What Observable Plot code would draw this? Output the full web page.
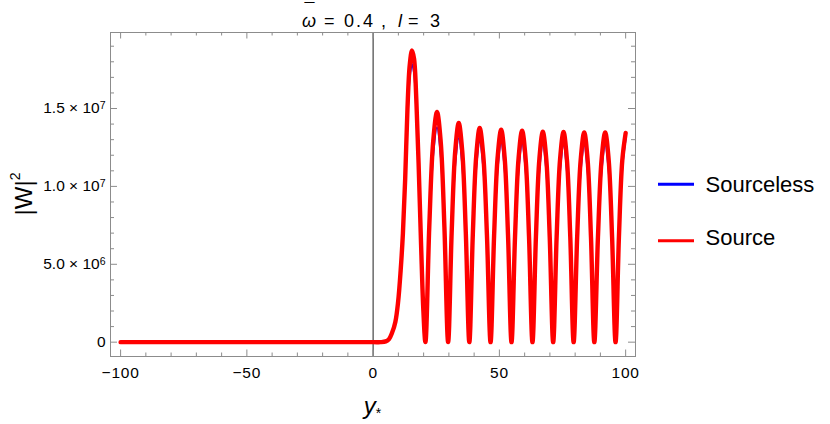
<!DOCTYPE html>
<html><head><meta charset="utf-8">
<script src="https://cdn.jsdelivr.net/npm/d3@7"></script>
<script src="https://cdn.jsdelivr.net/npm/@observablehq/plot@0.6"></script>
<style>
body{margin:0;background:#fff;}
#chart{position:relative;width:830px;height:424px;}
</style>
</head><body><div id="chart"></div>
<script>
// ---- data (|W|^2 in units of 1e6) ----
const seriesNames = ["Sourceless", "Source"];
const seriesColors = ["#0000ff", "#ff0000"];
const xs = [-100, -50, 0, 3, 5, 6.3, 7.5, 8.8, 9.9, 10.9, 11.8, 12.7, 13.6, 14.5, 15.4, 16.2, 17.1, 18.0, 19.0, 19.9, 20.7,
  22.23, 23.77, 25.3, 26.77, 28.23, 29.7, 31.1, 32.5, 33.9, 35.3, 36.7, 38.1, 39.47, 40.83, 42.2, 43.63, 45.07, 46.5,
  47.9, 49.3, 50.7, 52.07, 53.43, 54.8, 56.2, 57.6, 59.0, 60.37, 61.73, 63.1, 64.47, 65.83, 67.2, 68.57, 69.93, 71.3,
  72.67, 74.03, 75.4, 76.73, 78.07, 79.4, 80.8, 82.2, 83.6, 84.93, 86.27, 87.6, 89.03, 90.47, 91.9, 93.27, 94.63, 96.0,
  97.33, 98.67, 100];
const source = [0, 0, 0, 0, 0.05, 0.2, 0.6, 1.3, 2.6, 4.6, 7.0, 10.5, 15.0, 17.8, 18.73, 18.2, 15.6, 11.5, 6.2, 2.0, 0,
  7.39, 12.86, 14.78, 12.86, 7.39, 0, 7.04, 12.24, 14.07, 12.24, 7.04, 0, 6.88, 11.96, 13.75, 11.96, 6.88, 0,
  6.82, 11.87, 13.64, 11.87, 6.82, 0, 6.79, 11.81, 13.58, 11.81, 6.79, 0, 6.76, 11.75, 13.51, 11.75, 6.76, 0,
  6.75, 11.74, 13.49, 11.74, 6.75, 0, 6.74, 11.72, 13.47, 11.72, 6.74, 0, 6.74, 11.72, 13.47, 11.72, 6.74, 0,
  6.72, 11.68, 13.43];
const sourceless = [0, 0, 0, 0, 0.05, 0.2, 0.57, 1.24, 2.48, 4.38, 6.67, 10.0, 14.3, 17.0, 17.85, 17.3, 14.8, 10.9, 5.9, 1.9, 0,
  6.9, 12.01, 13.8, 12.01, 6.9, 0, 6.55, 11.4, 13.1, 11.4, 6.55, 0, 6.45, 11.22, 12.9, 11.22, 6.45, 0,
  6.4, 11.14, 12.8, 11.14, 6.4, 0, 6.38, 11.09, 12.75, 11.09, 6.38, 0, 6.35, 11.05, 12.7, 11.05, 6.35, 0,
  6.34, 11.03, 12.68, 11.03, 6.34, 0, 6.33, 11.01, 12.66, 11.01, 6.33, 0, 6.33, 11.01, 12.66, 11.01, 6.33, 0,
  6.4, 11.2, 13.05];

const xMajorTicks = [-100, -50, 0, 50, 100];
const xTickLabels = ["\u2212100", "\u221250", "0", "50", "100"];
const xMinorTicks = [-90, -80, -70, -60, -40, -30, -20, -10, 10, 20, 30, 40, 60, 70, 80, 90];
const yMajorTicks = [0, 5, 10, 15];
const yTickLabels = ["0", "5.0 \u00d7 10^6", "1.0 \u00d7 10^7", "1.5 \u00d7 10^7"];
const yMinorTicks = [1, 2, 3, 4, 6, 7, 8, 9, 11, 12, 13, 14, 16, 17, 18, 19];

// ---- layout ----
const W = 830, H = 424;
const mL = 110, mR = 195, mT = 32, mB = 68;
const innerW = W - mL - mR, innerH = H - mT - mB;
const grey = "#8c8c8c";
const font = "'Liberation Sans', Arial, sans-serif";

const rows = (vals, name) => xs.map((x, i) => ({x, y: vals[i], s: name}));
const blueData = rows(sourceless, seriesNames[0]);
const redData = rows(source, seriesNames[1]);

const chart = Plot.plot({
  width: W, height: H,
  marginLeft: mL, marginRight: mR, marginTop: mT, marginBottom: mB,
  x: {domain: [-104, 103.9]},
  y: {domain: [-0.92, 19.88]},
  style: {fontFamily: font, fontSize: "15px", color: "#000", background: "#fff"},
  marks: [
    Plot.ruleX([0], {stroke: "#444", strokeWidth: 1.2}),
    Plot.line(blueData, {x: "x", y: "y", stroke: seriesColors[0], strokeWidth: 2, curve: "catmull-rom"}),
    Plot.line(redData, {x: "x", y: "y", stroke: seriesColors[1], strokeWidth: 4.4, curve: "catmull-rom"}),
    Plot.frame({stroke: grey}),
    Plot.tickX(xMajorTicks, {x: d => d, stroke: grey, insetTop: innerH - 6.5}),
    Plot.tickX(xMajorTicks, {x: d => d, stroke: grey, insetBottom: innerH - 6.5}),
    Plot.tickX(xMinorTicks, {x: d => d, stroke: grey, insetTop: innerH - 3.5}),
    Plot.tickX(xMinorTicks, {x: d => d, stroke: grey, insetBottom: innerH - 3.5}),
    Plot.tickY(yMajorTicks, {y: d => d, stroke: grey, insetRight: innerW - 7}),
    Plot.tickY(yMajorTicks, {y: d => d, stroke: grey, insetLeft: innerW - 7}),
    Plot.tickY(yMinorTicks, {y: d => d, stroke: grey, insetRight: innerW - 4}),
    Plot.tickY(yMinorTicks, {y: d => d, stroke: grey, insetLeft: innerW - 4}),
    Plot.axisX(xMajorTicks, {tickSize: 0, tickPadding: 10, label: null, fontSize: 15.5,
      tickFormat: d => xTickLabels[xMajorTicks.indexOf(d)]}),
    Plot.axisY(yMajorTicks, {tickSize: 0, tickPadding: 5, label: null, fontSize: 15.5,
      tickFormat: d => yTickLabels[yMajorTicks.indexOf(d)]})
  ]
});
document.getElementById("chart").appendChild(chart);

const svg = d3.select(chart);
svg.selectAll('[aria-label="x-axis tick label"] text').attr("letter-spacing", "0.8px");
// superscripts in y tick labels
svg.selectAll('[aria-label="y-axis tick label"] text').each(function() {
  const t = d3.select(this);
  const s = t.text();
  if (s.includes("^")) {
    const [base, exp] = s.split("^");
    t.text("");
    t.append("tspan").text(base);
    t.append("tspan").attr("dy", "-0.45em").attr("font-size", "10.5px").text(exp);
  }
});

const cx = mL + innerW / 2;
// title: pieces placed left to right (overbar of omega as its own raised piece)
const titleParts = [
  {t: "\u00af", x: 304.5, dy: -10.5},
  {t: "\u03c9", x: 302, dy: 10.5, italic: true},
  {t: "=", x: 324},
  {t: "0.4", x: 344, ls: 2},
  {t: ",", x: 381},
  {t: "l", x: 398, italic: true},
  {t: "=", x: 408},
  {t: "3", x: 430}
];
const title = svg.append("text").attr("y", 26.5).attr("text-anchor", "start")
  .attr("font-family", font).attr("font-size", 18).attr("fill", "#000");
titleParts.forEach(p => {
  const sp = title.append("tspan").attr("x", p.x).text(p.t);
  if (p.dy) sp.attr("dy", p.dy);
  if (p.italic) sp.attr("font-style", "italic");
  if (p.ls) sp.attr("letter-spacing", p.ls + "px");
});

// y axis label
const yl = svg.append("text").attr("transform", `translate(31.5,${mT + innerH / 2}) rotate(-90)`)
  .attr("text-anchor", "middle").attr("font-family", font).attr("font-size", 24).attr("fill", "#000");
yl.append("tspan").text("|W|");
yl.append("tspan").attr("dy", "-0.8em").attr("font-size", 14).text("2");

// x axis label
const xl = svg.append("text").attr("x", cx).attr("y", 414).attr("text-anchor", "middle")
  .attr("font-family", font).attr("font-size", 24).attr("fill", "#000");
xl.append("tspan").attr("font-style", "italic").text("y");
xl.append("tspan").attr("dy", "0.25em").attr("font-size", 14).text("*");

// legend
const legY = [184.3, 240.7];
const legBase = [191.9, 245.4];
seriesNames.forEach((name, i) => {
  svg.append("line").attr("x1", 658).attr("x2", 694).attr("y1", legY[i]).attr("y2", legY[i])
    .attr("stroke", seriesColors[i]).attr("stroke-width", 3);
  svg.append("text").attr("x", 705.5).attr("y", legBase[i]).attr("text-anchor", "start")
    .attr("font-family", font).attr("font-size", 22).attr("fill", "#000").text(name);
});
</script>
</body></html>
